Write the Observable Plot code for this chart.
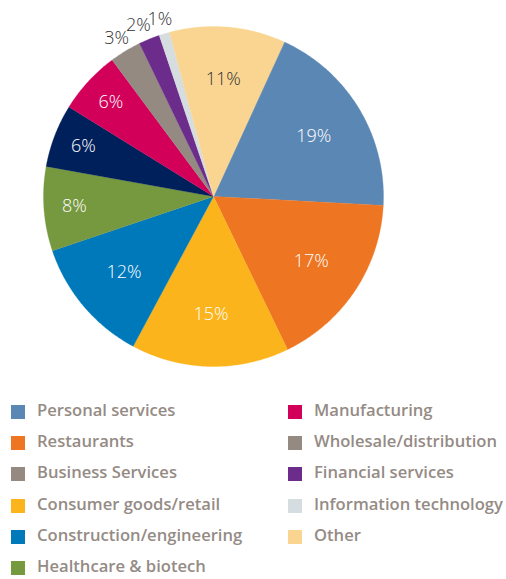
<!DOCTYPE html>
<html>
<head>
<meta charset="utf-8">
<script src="https://cdn.jsdelivr.net/npm/d3@7"></script>
<script src="https://cdn.jsdelivr.net/npm/@observablehq/plot@0.6"></script>
<style>
  html, body { margin: 0; padding: 0; background: #fff; }
  #chart { width: 506px; height: 390px; }
  #legend { position: relative; width: 506px; height: 189px; font-family: "Open Sans", sans-serif; }
  .item { position: absolute; display: flex; align-items: center; font-size: 16.6px; font-weight: 600; color: #958b85; white-space: nowrap; line-height: 16px; height: 16px; }
  .sw { width: 14px; height: 14px; margin-right: 12px; flex: none; position: relative; top: 2px; }
</style>
</head>
<body>
<div id="chart"></div>
<div id="legend"></div>
<script>
// Pie slices, clockwise from the start angle
const categories = ["Personal services", "Restaurants", "Consumer goods/retail", "Construction/engineering", "Healthcare & biotech", "Business Services", "Manufacturing", "Wholesale/distribution", "Financial services", "Information technology", "Other"];
const shares = [19, 17, 15, 12, 8, 6, 6, 3, 2, 1, 11];
const sliceColors = ["#5b87b4", "#ee7623", "#fbb41b", "#0079bb", "#76983f", "#00205b", "#d3005a", "#948a82", "#6b2c8b", "#d6dde0", "#f9d591"];
const labelColors = ["#fff", "#fff", "#fff", "#fff", "#fff", "#fff", "#fff", "#333", "#333", "#333", "#333"];

// Legend as shown in the picture
const legendLabels = ["Personal services", "Restaurants", "Business Services", "Consumer goods/retail", "Construction/engineering", "Healthcare & biotech", "Manufacturing", "Wholesale/distribution", "Financial services", "Information technology", "Other"];
const legendColors = ["#5b87b4", "#ee7623", "#948a82", "#fbb41b", "#0079bb", "#76983f", "#d3005a", "#948a82", "#6b2c8b", "#d6dde0", "#f9d591"];

const W = 506, H = 390, R = 170, CX = 213, CY = 196;
const startDeg = 24.6;
const FS = 18;

const total = d3.sum(shares);
let acc = startDeg;
const slices = categories.map((c, i) => {
  const a0 = acc, a1 = acc + shares[i] / total * 360;
  acc = a1;
  return {category: c, share: shares[i], a0, a1, mid: (a0 + a1) / 2, i};
});

const rad = d => d * Math.PI / 180;
const pts = [];
for (const s of slices) {
  pts.push({category: s.category, x: 0, y: 0});
  const n = Math.max(2, Math.ceil((s.a1 - s.a0) / 0.5));
  for (let k = 0; k <= n; k++) {
    const a = rad(s.a0 + (s.a1 - s.a0) * k / n);
    pts.push({category: s.category, x: Math.sin(a), y: Math.cos(a)});
  }
}

const labels = slices.map(s => {
  const outside = s.share < 5;
  const r = outside ? 1.09 : s.share < 10 ? 0.82 : 0.69;
  const a = rad(s.mid);
  return {text: s.share + "%", x: r * Math.sin(a), y: r * Math.cos(a), color: labelColors[s.i], outside};
});

// simple collision avoidance for the small outside labels (push left)
const outs = labels.filter(d => d.outside);
const wEst = t => t.length * FS * 0.6 / R;
for (let k = outs.length - 2; k >= 0; k--) {
  const a = outs[k], b = outs[k + 1];
  if (Math.abs(a.y - b.y) < 14 / R) {
    const maxX = b.x - wEst(b.text) / 2 - wEst(a.text) / 2;
    if (a.x > maxX) a.x = maxX;
  }
}

const chart = Plot.plot({
  width: W, height: H,
  margin: 0,
  x: {domain: [-CX / R, (W - CX) / R], axis: null},
  y: {domain: [-(H - CY) / R, CY / R], axis: null},
  color: {domain: categories, range: sliceColors},
  marks: [
    Plot.line(pts, {x: "x", y: "y", z: "category", fill: "category", stroke: "category", strokeWidth: 0.3, curve: "linear-closed"}),
    Plot.text(labels, {x: "x", y: "y", text: "text", fill: d => d.color, fontSize: FS, fontWeight: 300, fontFamily: "'Open Sans', sans-serif"})
  ]
});
document.getElementById("chart").appendChild(chart);

const legend = document.getElementById("legend");
legendLabels.forEach((l, i) => {
  const col = i < 6 ? 0 : 1;
  const row = i < 6 ? i : i - 6;
  const div = document.createElement("div");
  div.className = "item";
  div.style.left = (col === 0 ? 11 : 288) + "px";
  div.style.top = (12 + row * 31.2) + "px";
  const sw = document.createElement("span");
  sw.className = "sw";
  sw.style.background = legendColors[i];
  div.appendChild(sw);
  div.appendChild(document.createTextNode(l));
  legend.appendChild(div);
});
</script>
</body>
</html>
